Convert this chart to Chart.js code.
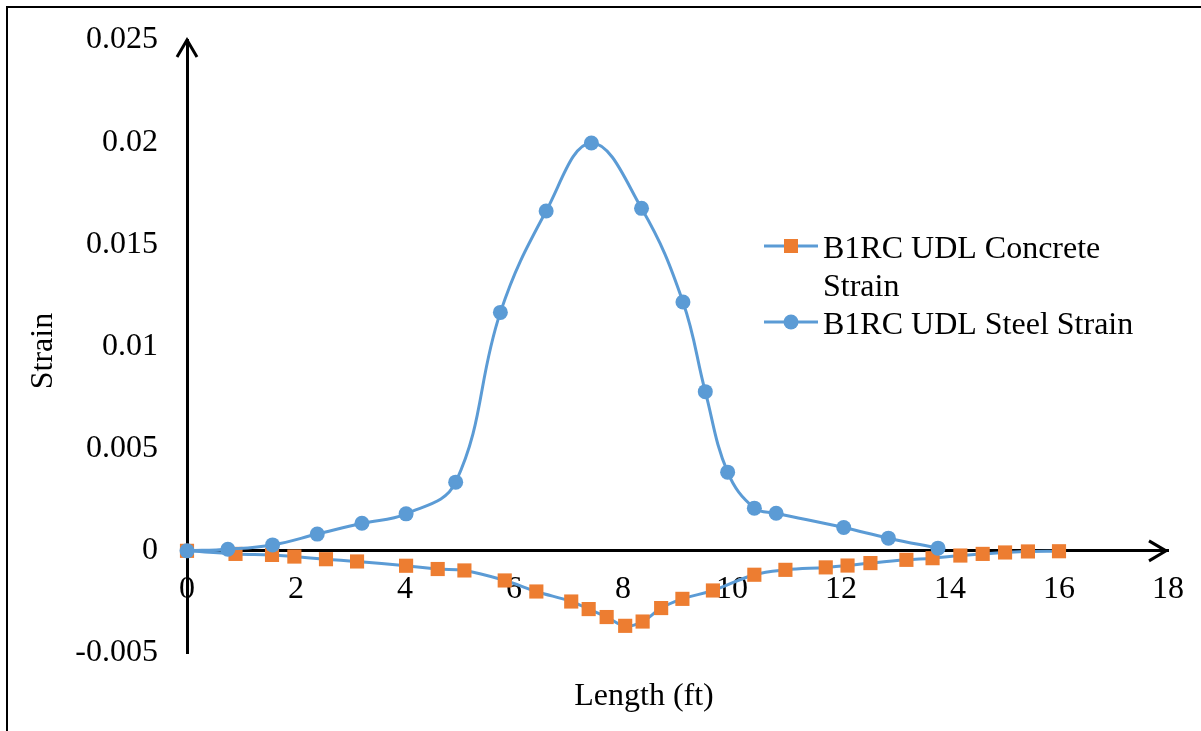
<!DOCTYPE html>
<html>
<head>
<meta charset="utf-8">
<title>B1RC UDL Strain</title>
<script src="https://cdn.jsdelivr.net/npm/chart.js@4.4.1/dist/chart.umd.min.js"></script>
<style>
  html, body { margin: 0; padding: 0; background: #ffffff; }
  canvas { display: block; }
</style>
</head>
<body>
<canvas id="chart" width="1201" height="731"></canvas>
<script>
// Steel strain along the beam (ft, strain)
const steelLength = [0, 0.75, 1.57, 2.39, 3.21, 4.02, 4.93, 5.75, 6.59, 7.42, 8.34, 9.10, 9.51, 9.92, 10.41, 10.81, 12.05, 12.87, 13.78];
const steelStrain = [0, 0.00008, 0.00029, 0.00082, 0.00135, 0.00181, 0.00336, 0.01167, 0.01663, 0.01996, 0.01676, 0.01218, 0.00779, 0.00385, 0.00209, 0.00184, 0.00114, 0.00062, 0.00013];

// Concrete strain along the beam (ft, strain)
const concreteLength = [0, 0.89, 1.56, 1.97, 2.55, 3.12, 4.02, 4.60, 5.09, 5.83, 6.41, 7.05, 7.37, 7.70, 8.04, 8.36, 8.70, 9.09, 9.65, 10.41, 10.98, 11.72, 12.12, 12.54, 13.20, 13.68, 14.19, 14.60, 15.01, 15.43, 16.0];
const concreteStrain = [0, -0.00015, -0.0002, -0.00028, -0.00041, -0.00052, -0.00073, -0.00089, -0.00096, -0.00145, -0.00199, -0.00248, -0.00285, -0.00324, -0.00367, -0.00346, -0.0028, -0.00235, -0.00194, -0.00117, -0.00093, -0.00081, -0.00072, -0.0006, -0.00044, -0.00036, -0.00023, -0.00015, -0.00008, -0.00003, -0.00002];

const seriesNames = ['B1RC UDL Concrete Strain', 'B1RC UDL Steel Strain'];

// Axis ticks
const xTickValues = [0, 2, 4, 6, 8, 10, 12, 14, 16, 18];
const yTickValues = [-0.005, 0, 0.005, 0.01, 0.015, 0.02, 0.025];
const yTickLabels = ['-0.005', '0', '0.005', '0.01', '0.015', '0.02', '0.025'];

const xTitle = 'Length (ft)';
const yTitle = 'Strain';

const BLUE = '#5B9BD5';
const ORANGE = '#ED7D31';
const FONT_FAMILY = '"Liberation Serif", "Times New Roman", serif';
const FONT_SIZE = 32;

function toPoints(xs, ys) {
  return xs.map((x, i) => ({ x: x, y: ys[i] }));
}

// Wrap a label into lines no wider than maxWidth
function wrapText(ctx, text, maxWidth) {
  const words = text.split(' ');
  const lines = [];
  let line = '';
  for (const w of words) {
    const test = line ? line + ' ' + w : w;
    if (line && ctx.measureText(test).width > maxWidth) {
      lines.push(line);
      line = w;
    } else {
      line = test;
    }
  }
  if (line) lines.push(line);
  return lines;
}

const decorations = {
  id: 'decorations',
  beforeDraw(chart) {
    const ctx = chart.ctx;
    ctx.save();
    ctx.fillStyle = '#ffffff';
    ctx.fillRect(0, 0, chart.width, chart.height);
    ctx.restore();
  },
  afterDraw(chart) {
    const ctx = chart.ctx;
    const xs = chart.scales.x;
    const ys = chart.scales.y;
    const x0 = xs.getPixelForValue(0);
    const y0 = ys.getPixelForValue(0);
    const yTop = ys.getPixelForValue(0.025);
    const xEnd = xs.getPixelForValue(18) - 2;

    ctx.save();
    // outer frame (top and left edges)
    ctx.strokeStyle = '#000000';
    ctx.lineWidth = 2;
    ctx.beginPath();
    ctx.moveTo(7, chart.height);
    ctx.lineTo(7, 7);
    ctx.lineTo(chart.width, 7);
    ctx.stroke();

    // axis arrow heads
    ctx.lineWidth = 3;
    ctx.lineJoin = 'miter';
    ctx.beginPath();
    ctx.moveTo(x0 - 10, yTop + 17);
    ctx.lineTo(x0, yTop);
    ctx.lineTo(x0 + 10, yTop + 17);
    ctx.stroke();
    ctx.beginPath();
    ctx.moveTo(xEnd - 17, y0 - 10);
    ctx.lineTo(xEnd, y0);
    ctx.lineTo(xEnd - 17, y0 + 10);
    ctx.stroke();

    // axis titles
    ctx.fillStyle = '#000000';
    ctx.font = FONT_SIZE + 'px ' + FONT_FAMILY;
    ctx.textAlign = 'center';
    ctx.textBaseline = 'alphabetic';
    ctx.fillText(xTitle, 644, 705);
    ctx.save();
    ctx.translate(52, 351);
    ctx.rotate(-Math.PI / 2);
    ctx.fillText(yTitle, 0, 0);
    ctx.restore();

    // legend
    const legendX = 764, legendW = 54, textX = 823, lineGap = 38;
    let baseline = 258;
    ctx.textAlign = 'left';
    chart.data.datasets.forEach((ds) => {
      const lines = wrapText(ctx, ds.label, 330);
      const cy = baseline - 12;
      ctx.strokeStyle = ds.borderColor;
      ctx.lineWidth = 3;
      ctx.beginPath();
      ctx.moveTo(legendX, cy);
      ctx.lineTo(legendX + legendW, cy);
      ctx.stroke();
      ctx.fillStyle = ds.pointBackgroundColor;
      const mx = legendX + legendW / 2;
      if (ds.pointStyle === 'rect') {
        ctx.fillRect(mx - 7, cy - 7, 14, 14);
      } else {
        ctx.beginPath();
        ctx.arc(mx, cy, 7.5, 0, Math.PI * 2);
        ctx.fill();
      }
      ctx.fillStyle = '#000000';
      lines.forEach((ln, i) => {
        ctx.fillText(ln, textX, baseline + i * lineGap);
      });
      baseline += lines.length * lineGap;
    });
    ctx.restore();
  }
};

new Chart(document.getElementById('chart'), {
  type: 'scatter',
  data: {
    datasets: [
      {
        label: seriesNames[0],
        data: toPoints(concreteLength, concreteStrain),
        showLine: true,
        borderColor: BLUE,
        borderWidth: 3,
        tension: 0.4,
        pointStyle: 'rect',
        pointRadius: 10,
        pointHoverRadius: 10,
        pointBorderWidth: 0,
        pointBackgroundColor: ORANGE,
        pointBorderColor: ORANGE,
        clip: false,
        order: 1
      },
      {
        label: seriesNames[1],
        data: toPoints(steelLength, steelStrain),
        showLine: true,
        borderColor: BLUE,
        borderWidth: 3,
        tension: 0.4,
        pointStyle: 'circle',
        pointRadius: 7.5,
        pointHoverRadius: 7.5,
        pointBorderWidth: 0,
        pointBackgroundColor: BLUE,
        pointBorderColor: BLUE,
        clip: false,
        order: 0
      }
    ]
  },
  options: {
    responsive: false,
    devicePixelRatio: 1,
    animation: false,
    events: [],
    layout: { padding: { left: 0, top: 40, right: 33, bottom: 78 } },
    plugins: {
      legend: { display: false },
      tooltip: { enabled: false }
    },
    scales: {
      x: {
        type: 'linear',
        position: { y: 0 },
        min: 0,
        max: 18,
        afterBuildTicks(scale) {
          scale.ticks = xTickValues.map(v => ({ value: v }));
        },
        afterFit(scale) {
          scale.paddingLeft = 0;
          scale.paddingRight = 0;
        },
        grid: { display: false, drawTicks: false },
        border: { display: true, color: '#000000', width: 3 },
        ticks: {
          color: '#000000',
          padding: 20,
          maxRotation: 0,
          autoSkip: false,
          font: { family: FONT_FAMILY, size: FONT_SIZE },
          callback: (v) => String(v)
        }
      },
      y: {
        type: 'linear',
        position: 'left',
        min: -0.005,
        max: 0.025,
        afterBuildTicks(scale) {
          scale.ticks = yTickValues.map(v => ({ value: v }));
        },
        afterFit(scale) {
          scale.width = 187;
          scale.paddingTop = 0;
          scale.paddingBottom = 0;
        },
        grid: { display: false, drawTicks: false },
        border: { display: true, color: '#000000', width: 3 },
        ticks: {
          color: '#000000',
          padding: 29,
          autoSkip: false,
          font: { family: FONT_FAMILY, size: FONT_SIZE },
          callback: (v) => {
            const i = yTickValues.findIndex(t => Math.abs(t - v) < 1e-9);
            return i >= 0 ? yTickLabels[i] : '';
          }
        }
      }
    }
  },
  plugins: [decorations]
});
</script>
</body>
</html>
